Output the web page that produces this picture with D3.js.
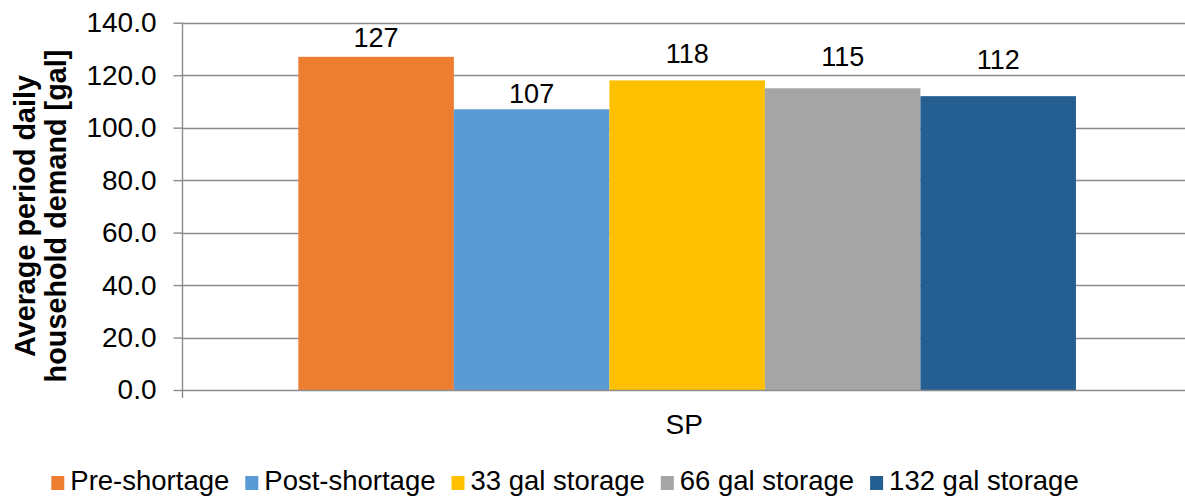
<!DOCTYPE html>
<html>
<head>
<meta charset="utf-8">
<script src="https://cdn.jsdelivr.net/npm/d3@7/dist/d3.min.js"></script>
<style>
  html, body { margin: 0; padding: 0; background: #fff; }
  svg { display: block; font-family: "Liberation Sans", Arial, Helvetica, sans-serif; }
</style>
</head>
<body>
<svg id="chart" width="1185" height="498"></svg>
<script>
// Average period daily household demand, one category with five scenarios
const categories = ["SP"];
const seriesNames = ["Pre-shortage", "Post-shortage", "33 gal storage", "66 gal storage", "132 gal storage"];
const seriesValues = [127, 107, 118, 115, 112];
const seriesColors = ["#ED7D31", "#5B9BD5", "#FFC000", "#A5A5A5", "#255E91"];
const yTicks = [0, 20, 40, 60, 80, 100, 120, 140];
const yTitleLines = ["Average period daily", "household demand [gal]"];

// how far each data label sits above its bar (px)
const labelLift = [10, 6.5, 17.5, 22, 27];

const svg = d3.select("#chart");
const W = 1185;
const plot = { left: 181.7, right: 1192.6, top: 22.7, bottom: 390 };
const gridColor = "#8c8c8c";

const y = d3.scaleLinear().domain([0, 140]).range([plot.bottom, plot.top]);

// one band per category; bars fill it with a 150% gap width
const x0 = d3.scaleBand().domain(categories).range([plot.left, plot.right]).padding(0);
const barW = x0.bandwidth() / (seriesNames.length + 1.5);
const x1 = d3.scaleBand().domain(seriesNames)
  .range([barW * 0.75, barW * 0.75 + barW * seriesNames.length])
  .padding(0);

// horizontal gridlines
svg.append("g")
  .selectAll("line")
  .data(yTicks.filter(d => d > 0))
  .join("line")
  .attr("x1", plot.left).attr("x2", W)
  .attr("y1", d => Math.round(y(d)) + 0.5).attr("y2", d => Math.round(y(d)) + 0.5)
  .attr("stroke", gridColor).attr("stroke-width", 1.4);

// value axis
const yAxis = d3.axisLeft(y).tickValues(yTicks).tickFormat(d3.format(".1f")).tickSize(9).tickPadding(17);
const gy = svg.append("g").attr("transform", `translate(${Math.round(plot.left) + 0.5},0)`).call(yAxis);
gy.select(".domain").remove();
gy.selectAll(".tick line").attr("stroke", gridColor).attr("stroke-width", 1.4);
gy.selectAll(".tick text").attr("fill", "#000").style("font-size", "28px")
  .style("font-family", "'Liberation Sans', Arial, sans-serif");
gy.append("line")
  .attr("x1", 0).attr("x2", 0)
  .attr("y1", y(140)).attr("y2", plot.bottom + 8)
  .attr("stroke", gridColor).attr("stroke-width", 1.4);

// bars and their value labels
const bars = svg.append("g");
categories.forEach(cat => {
  const gx = x0(cat);
  const rows = seriesNames.map((s, i) => ({ s, v: seriesValues[i], c: seriesColors[i], lift: labelLift[i] }));
  bars.selectAll(null)
    .data(rows)
    .join("rect")
    .attr("x", d => gx + x1(d.s))
    .attr("width", x1.bandwidth())
    .attr("y", d => y(d.v))
    .attr("height", d => y(0) - y(d.v))
    .attr("fill", d => d.c);

  bars.selectAll(null)
    .data(rows)
    .join("text")
    .attr("x", d => gx + x1(d.s) + x1.bandwidth() / 2)
    .attr("y", d => y(d.v) - d.lift)
    .attr("text-anchor", "middle")
    .style("font-size", "27px")
    .attr("fill", "#000")
    .text(d => d3.format("d")(d.v));
});

// baseline (category axis)
svg.append("line")
  .attr("x1", plot.left).attr("x2", W)
  .attr("y1", Math.round(y(0)) + 0.5).attr("y2", Math.round(y(0)) + 0.5)
  .attr("stroke", gridColor).attr("stroke-width", 1.4);

// category label
categories.forEach(cat => {
  svg.append("text")
    .attr("x", x0(cat) + x0.bandwidth() / 2 - 3)
    .attr("y", 434)
    .attr("text-anchor", "middle")
    .style("font-size", "28px")
    .attr("fill", "#000")
    .text(cat);
});

// value axis title
const title = svg.append("text")
  .attr("transform", "translate(0,216) rotate(-90)")
  .attr("text-anchor", "middle")
  .style("font-size", "28.8px")
  .style("font-weight", "bold")
  .attr("fill", "#000");
yTitleLines.forEach((line, i) => {
  title.append("tspan").attr("x", 0).attr("y", 35 + i * 30.5).text(line);
});

// legend
const legend = svg.append("g");
const items = legend.selectAll("g").data(seriesNames).join("g");
items.append("rect").attr("width", 13).attr("height", 14).attr("y", 476)
  .attr("fill", (d, i) => seriesColors[i]);
items.append("text").attr("x", 19).attr("y", 490)
  .style("font-size", "27.5px").attr("fill", "#000").text(d => d);
let cx = 0;
const offsets = [];
items.each(function () {
  offsets.push(cx);
  const w = 19 + d3.select(this).select("text").node().getComputedTextLength();
  cx += w + 16;
});
const total = cx - 16;
const startX = 565 - total / 2;
items.attr("transform", (d, i) => `translate(${startX + offsets[i]},0)`);
</script>
</body>
</html>
